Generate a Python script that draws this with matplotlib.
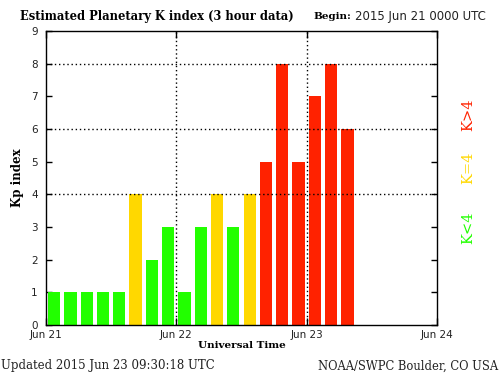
import matplotlib
matplotlib.use("Agg")
import matplotlib.pyplot as plt
import numpy as np

# Kp values, one per 3-hour interval starting 2015 Jun 21 00 UT
kp = [1, 1, 1, 1, 1, 4, 2, 3, 1, 3, 4, 3, 4, 5, 8, 5, 7, 8, 6]
day_labels = ["Jun 21", "Jun 22", "Jun 23", "Jun 24"]
y_ticks = [0, 1, 2, 3, 4, 5, 6, 7, 8, 9]
grid_levels = [4, 6, 8]

green = "#22ff00"
yellow = "#ffd800"
red = "#ff2200"

hours = np.arange(len(kp)) * 3 + 1.5
colors = [green if k < 4 else (yellow if k == 4 else red) for k in kp]

fig = plt.figure(figsize=(5, 3.75), dpi=100)
ax = fig.add_axes([0.092, 0.1333, 0.782, 0.784])

ax.bar(hours, kp, width=2.25, color=colors, zorder=2)

ax.set_xlim(0, 72)
ax.set_ylim(0, 9)

# dotted grid
for lev in grid_levels:
    ax.axhline(lev, color="black", lw=1, ls=(0, (1, 2)), zorder=3)
for d in [24, 48]:
    ax.axvline(d, color="black", lw=1, ls=(0, (1, 2)), zorder=3)

ax.set_xticks([0, 24, 48, 72])
ax.set_xticklabels(day_labels, fontsize=7.5, color="#222222")
ax.set_xticks(np.arange(24) * 3 + 1.5, minor=True)
ax.tick_params(axis="x", which="minor", direction="in", length=4, color="white", width=1)
ax.tick_params(axis="x", which="major", direction="in", length=5, top=True, width=1)
ax.set_yticks(y_ticks)
ax.set_yticklabels([str(v) for v in y_ticks], fontsize=7.5, color="#222222")
ax.tick_params(axis="y", direction="in", length=4, right=True, width=1, pad=6)
for s in ax.spines.values():
    s.set_linewidth(1)

ax.set_ylabel("Kp index", fontsize=8.5, fontweight="bold", family="DejaVu Serif", labelpad=5)
ax.set_xlabel("Universal Time", fontsize=7.5, fontweight="bold", family="DejaVu Serif", labelpad=1)

fig.text(0.04, 0.957, "Estimated Planetary K index (3 hour data)", fontsize=8.3,
         fontweight="bold", family="DejaVu Serif", va="center")
fig.text(0.626, 0.955, "Begin:", fontsize=7.5, fontweight="bold", family="DejaVu Serif", va="center")
fig.text(0.71, 0.955, "2015 Jun 21 0000 UTC", fontsize=8.5, va="center", color="#222222")
fig.text(0.002, 0.024, "Updated 2015 Jun 23 09:30:18 UTC", fontsize=8.5, va="center",
         family="DejaVu Serif", color="#222222")
fig.text(0.996, 0.024, "NOAA/SWPC Boulder, CO USA", fontsize=8.3, va="center", ha="right",
         family="DejaVu Serif", color="#222222")

fig.text(0.936, 1 - 115 / 375, "K>4", color=red, rotation=90, fontsize=10.5,
         family="DejaVu Serif", ha="center", va="center")
fig.text(0.936, 1 - 168 / 375, "K=4", color=yellow, rotation=90, fontsize=10.5,
         family="DejaVu Serif", ha="center", va="center")
fig.text(0.936, 1 - 228 / 375, "K<4", color=green, rotation=90, fontsize=10.5,
         family="DejaVu Serif", ha="center", va="center")

fig.savefig("out.png", dpi=100)
